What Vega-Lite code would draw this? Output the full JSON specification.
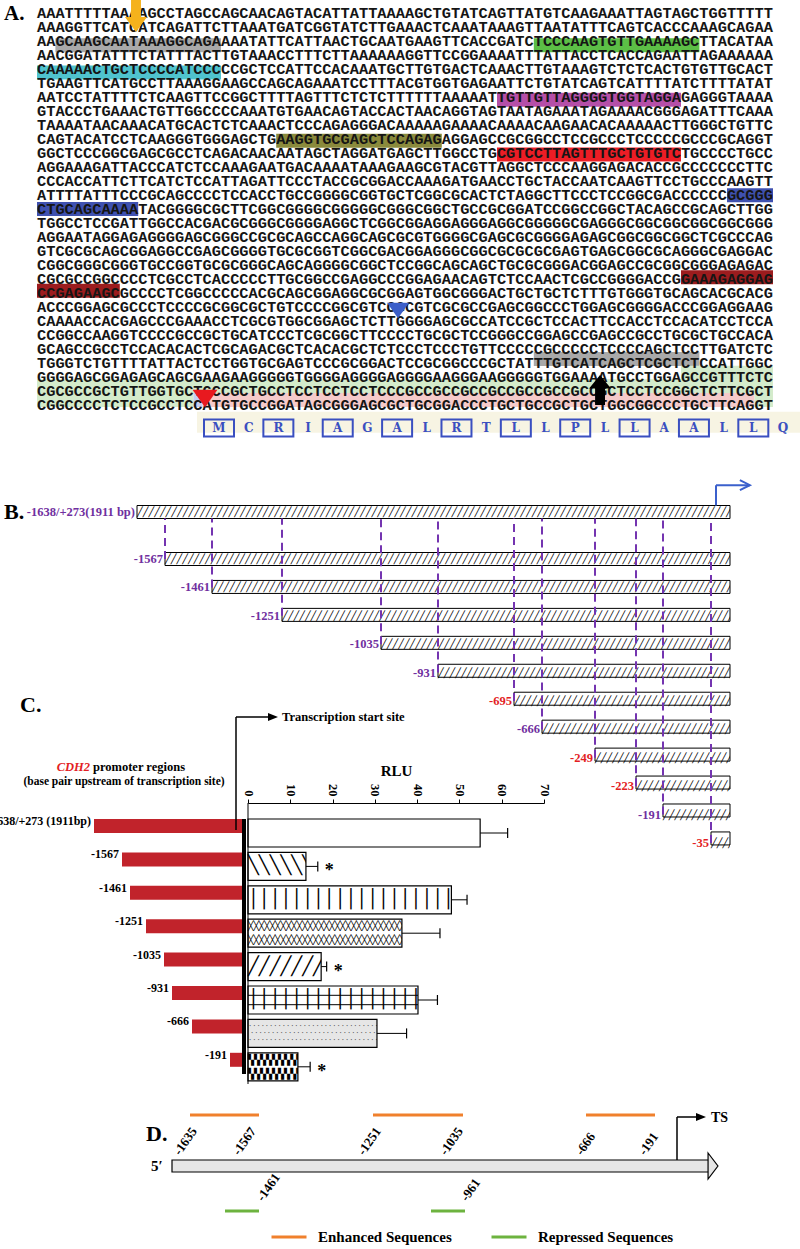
{
"$schema":"https://vega.github.io/schema/vega-lite/v6.json",
"width":800,"height":1249,"autosize":{"type":"none"},"padding":0,"background":"white",
"config":{"view":{"stroke":null}},
"resolve":{"scale":{"x":"independent","y":"independent","fill":"independent","color":"independent"}},
"datasets":{
"seq":[
{"line":0,"s":"AAATTTTTAAAAGCCTAGCCAGCAACAGTACATTATTAAAAGCTGTATCAGTTATGTCAAGAAATTAGTAGCTGGTTTTT"},
{"line":1,"s":"AAAGGTTCATCATCAGATTCTTAAATGATCGGTATCTTGAAACTCAAATAAAGTTAATATTTCAGTCACCCAAAGCAGAA"},
{"line":2,"s":"AAGCAAGCAATAAAGGCAGAAAATATTCATTAACTGCAATGAAGTTCACCGATCTCCCAAGTGTTGAAAAGCTTACATAA"},
{"line":3,"s":"AACGGATATTTCTATTTACTTGTAAACCTTTCTTAAAAAAGGTTCCGGAAAATTTATTACCTCACCAGAATTAGAAAAAA"},
{"line":4,"s":"CAAAAACTGCTCCCCATCCCCCGCTCCATTCCACAAATGCTTGTGACTCAAACTTGTAAAGTCTCTCACTGTGTTGCACT"},
{"line":5,"s":"TGAAGTTCATGCCTTAAAGGAAGCCAGCAGAAATCCTTTACGTGGTGAGAATTCTGTATCAGTCATTTTATCTTTTATAT"},
{"line":6,"s":"AATCCTATTTTCTCAAGTTCCGGCTTTTAGTTTCTCTCTTTTTTAAAAATTGTTGTTAGGGGTGGTAGGAGAGGGTAAAA"},
{"line":7,"s":"GTACCCTGAAACTGTTGGCCCCAAATGTGAACAGTACCACTAACAGGTAGTAATAGAAATAGAAAACGGGAGATTTCAAA"},
{"line":8,"s":"TAAAATAACAAACATGCACTCTCAAACTCCCAGAGGGACAAAAAGAAAACAAAACAAGAACACAAAAACTTGGGCTGTTC"},
{"line":9,"s":"CAGTACATCCTCAAGGGTGGGAGCTGAAGGTGCGAGCTCCAGAGAGGAGCCGCGGCCTCCGCCCTCCCCCGCCCGCAGGT"},
{"line":10,"s":"GGCTCCCGGCGAGCGCCTCAGACAACAATAGCTAGGATGAGCTTGGCCTGCGTCCTTAGTTTGCTGTGTCTGCCCCTGCC"},
{"line":11,"s":"AGGAAAGATTACCCATCTCCAAAGAATGACAAAATAAAGAAGCGTACGTTAGGCTCCCAAGGAGACACCGCCCCCCCTTC"},
{"line":12,"s":"CCCACCATTCTTCATCTCCATTAGATTCCCTACCGCGGACCAAAGATGAACCTGCTACCAATCAAGTTCCTGCCCAAGTT"},
{"line":13,"s":"ATTTTATTTCCCGCAGCCCCTCCACCTGCCGGGGCGGTGCTCGGCGCACTCTAGGCTTCCCTCCGGCGACCCCCCGCGGG"},
{"line":14,"s":"CTGCAGCAAAATACGGGGCGCTTCGGCGGGGCGGGGGCGGGCGGCTGCCGCGGATCCGGCCGGCTACAGCCGCAGCTTGG"},
{"line":15,"s":"TGGCCTCCGATTGGCCACGACGCGGGCGGGGAGGCTCGGCGGAGGAGGGAGGCGGGGGCGAGGGCGGCGGCGGCGGCGGG"},
{"line":16,"s":"AGGAATAGGAGAGGGGAGCGGGCCGCGCAGCCAGGCAGCGCGTGGGGCGAGCGCGGGGAGAGCGGCGGCGGCTCGCCCAG"},
{"line":17,"s":"GTCGCGCAGCGGAGGCCGAGCGGGGTGCGCGGTCGGCGACGGAGGGCGGCGCGCGCGAGTGAGCGGCGCAGGGCGAGGAC"},
{"line":18,"s":"CGGCGGGCGGGTGCCGGTGCGCGGGCAGCAGGGGCGGCTCCGGCAGCAGCTGCGCGGGACGGAGCCGCGGCGGGAGAGAC"},
{"line":19,"s":"CGCGCCGGCCCCTCGCCTCACCCCCTTGCGGCCGAGGCCCGGAGAACAGTCTCCAACTCGCCGGGGACCGGAAAGAGGAG"},
{"line":20,"s":"CCGAGAAGCGCCCCTCGGCCCCCACGCAGCGGAGGCGCGGAGTGGCGGGACTGCTGCTCTTTGTGGGTGCAGCACGCACG"},
{"line":21,"s":"ACCCGGAGCGCCCTCCCCGCGGCGCTGTCCCCGGCGTCCGCGTCGCGCCGAGCGGCCCTGGAGCGGGGACCCGGAGGAAG"},
{"line":22,"s":"CAAAACCACGAGCCCGAAACCTCGCGTGGCGGAGCTCTTGGGGAGCGCCATCCGCTCCACTTCCACCTCCACATCCTCCA"},
{"line":23,"s":"CCGGCCAAGGTCCCCGCCGCTGCATCCCTCGCGGCTTCCCCTGCGCTCCGGGCCGGAGCCGAGCCGCCTGCGCTGCCACA"},
{"line":24,"s":"GCAGCCGCCTCCACACACTCGCAGACGCTCACACGCTCTCCCTCCCTGTTCCCCCGCCCCCTCCCCAGCTCCTTGATCTC"},
{"line":25,"s":"TGGGTCTGTTTTATTACTCCTGGTGCGAGTCCCGCGGACTCCGCGGCCCGCTATTTGTCATCAGCTCGCTCTCCATTGGC"},
{"line":26,"s":"GGGGAGCGGAGAGCAGCGAAGAAGGGGGTGGGGAGGGGAGGGGAAGGGAAGGGGGTGGAAAATGCCTGGAGCCGTTTCTC"},
{"line":27,"s":"CGCGCCGCTGTTGGTGCTGCCGCTGCCTCCTCCTCCTCCCGCCGCCGCCGCCGCCGCCGCCGCTCCTCCGGCTCTTCGCT"},
{"line":28,"s":"CGGCCCCTCTCCGCCTCCATGTGCCGGATAGCGGGAGCGCTGCGGACCCTGCTGCCGCTGCTGGCGGCCCTGCTTCAGGT"}
],
"hl":[
{"line":2,"from":2,"to":20,"f":"s1"},
{"line":2,"from":54,"to":72,"f":"s2"},
{"line":4,"from":0,"to":20,"f":"s3"},
{"line":6,"from":50,"to":70,"f":"s4"},
{"line":9,"from":26,"to":44,"f":"s5"},
{"line":10,"from":50,"to":70,"f":"s6"},
{"line":13,"from":75,"to":80,"f":"s7"},
{"line":14,"from":0,"to":11,"f":"s7"},
{"line":19,"from":70,"to":80,"f":"s8"},
{"line":20,"from":0,"to":9,"f":"s8"},
{"line":25,"from":54,"to":72,"f":"s1"},
{"line":26,"from":70,"to":80,"f":"exon"},
{"line":27,"from":0,"to":80,"f":"exon"},
{"line":28,"from":0,"to":17,"f":"exon"},
{"line":28,"from":17,"to":18,"f":"tss"},
{"line":28,"from":18,"to":78,"f":"cds"},
{"line":28,"from":78,"to":80,"f":"exon"}
],
"prot":[
{"i":0,"aa":"M","boxed":true},{"i":1,"aa":"C","boxed":false},{"i":2,"aa":"R","boxed":true},{"i":3,"aa":"I","boxed":false},
{"i":4,"aa":"A","boxed":true},{"i":5,"aa":"G","boxed":false},{"i":6,"aa":"A","boxed":true},{"i":7,"aa":"L","boxed":false},
{"i":8,"aa":"R","boxed":true},{"i":9,"aa":"T","boxed":false},{"i":10,"aa":"L","boxed":true},{"i":11,"aa":"L","boxed":false},
{"i":12,"aa":"P","boxed":true},{"i":13,"aa":"L","boxed":false},{"i":14,"aa":"L","boxed":true},{"i":15,"aa":"A","boxed":false},
{"i":16,"aa":"A","boxed":true},{"i":17,"aa":"L","boxed":false},{"i":18,"aa":"L","boxed":true},{"i":19,"aa":"Q","boxed":false}
],
"bcon":[
{"row":0,"start":-1638,"end":273,"label":"-1638/+273(1911 bp)","tested":"yes"},
{"row":1,"start":-1567,"end":273,"label":"-1567","tested":"yes"},
{"row":2,"start":-1461,"end":273,"label":"-1461","tested":"yes"},
{"row":3,"start":-1251,"end":273,"label":"-1251","tested":"yes"},
{"row":4,"start":-1035,"end":273,"label":"-1035","tested":"yes"},
{"row":5,"start":-931,"end":273,"label":"-931","tested":"yes"},
{"row":6,"start":-695,"end":273,"label":"-695","tested":"no"},
{"row":7,"start":-666,"end":273,"label":"-666","tested":"yes"},
{"row":8,"start":-249,"end":273,"label":"-249","tested":"no"},
{"row":9,"start":-223,"end":273,"label":"-223","tested":"no"},
{"row":10,"start":-191,"end":273,"label":"-191","tested":"yes"},
{"row":11,"start":-35,"end":273,"label":"-35","tested":"no"}
],
"rlu":[
{"construct":"-1638/+273 (1911bp)","bp":-1638,"rlu":54.9,"hi":61.4,"sig":""},
{"construct":"-1567","bp":-1567,"rlu":13.7,"hi":16.5,"sig":"*"},
{"construct":"-1461","bp":-1461,"rlu":48.1,"hi":51.8,"sig":""},
{"construct":"-1251","bp":-1251,"rlu":36.4,"hi":45.4,"sig":""},
{"construct":"-1035","bp":-1035,"rlu":17.3,"hi":18.6,"sig":"*"},
{"construct":"-931","bp":-931,"rlu":40.2,"hi":44.8,"sig":""},
{"construct":"-666","bp":-666,"rlu":30.5,"hi":37.5,"sig":""},
{"construct":"-191","bp":-191,"rlu":11.8,"hi":14.7,"sig":"*"}
],
"dseg":[
{"from":-1635,"to":-1567,"effect":"Enhanced Sequences"},
{"from":-1251,"to":-1035,"effect":"Enhanced Sequences"},
{"from":-666,"to":-191,"effect":"Enhanced Sequences"},
{"from":-1567,"to":-1461,"effect":"Repressed Sequences"},
{"from":-1035,"to":-961,"effect":"Repressed Sequences"}
],
"dlab":[
{"bp":-1635,"label":"-1635","side":"above"},
{"bp":-1567,"label":"-1567","side":"above"},
{"bp":-1251,"label":"-1251","side":"above"},
{"bp":-1035,"label":"-1035","side":"above"},
{"bp":-666,"label":"-666","side":"above"},
{"bp":-191,"label":"-191","side":"above"},
{"bp":-1461,"label":"-1461","side":"below"},
{"bp":-961,"label":"-961","side":"below"}
]
},
"layer":[
{"data":{"name":"hl"},"mark":{"type":"bar","orient":"horizontal","height":14},
"encoding":{"x":{"field":"from","type":"quantitative","scale":{"domain":[0,80],"range":[37,773],"zero":false,"nice":false},"axis":null},"x2":{"field":"to"},
"y":{"field":"line","type":"quantitative","scale":{"domain":[0,28],"range":[13,405],"zero":false,"nice":false},"axis":null},
"fill":{"field":"f","type":"nominal","scale":{"domain":["s1","s2","s3","s4","s5","s6","s7","s8","exon","tss","cds"],"range":["#a9a9a9","#5cbf46","#4fc3ce","#b54fa8","#8a8a3c","#ec1d25","#3f51b0","#9c1c1e","#d4ebcb","#c6cdf0","#f5caca"]},"legend":null}}},
{"data":{"values":[{}]},"mark":{"type":"bar","orient":"horizontal","height":21,"color":"#f7f4e3"},
"encoding":{"x":{"datum":-0.74,"type":"quantitative","scale":{"domain":[0,19],"range":[219,783],"zero":false,"nice":false},"axis":null},"x2":{"datum":20.5},
"y":{"datum":29.64,"type":"quantitative","scale":{"domain":[0,28],"range":[13,405],"zero":false,"nice":false},"axis":null}}},
{"data":{"name":"seq"},"mark":{"type":"text","align":"left","baseline":"middle","font":"Liberation Mono","fontWeight":"bold","fontSize":15.33,"color":"#151515"},
"encoding":{"x":{"datum":0,"type":"quantitative","scale":{"domain":[0,80],"range":[37,773],"zero":false,"nice":false},"axis":null},
"y":{"field":"line","type":"quantitative","scale":{"domain":[0,28],"range":[13,405],"zero":false,"nice":false},"axis":null},"text":{"field":"s"}}},
{"data":{"values":[{}]},"mark":{"type":"point","shape":"M-0.31,-1L0.31,-1L0.31,0.06L0.69,0.06L0,1L-0.69,0.06L-0.31,0.06Z","size":1024,"filled":true,"color":"#f5b21c","opacity":1,"strokeWidth":0},
"encoding":{"x":{"datum":10.76,"type":"quantitative","scale":{"domain":[0,80],"range":[37,773],"zero":false,"nice":false},"axis":null},
"y":{"datum":0.21,"type":"quantitative","scale":{"domain":[0,28],"range":[13,405],"zero":false,"nice":false},"axis":null}}},
{"data":{"values":[{}]},"mark":{"type":"point","shape":"M-1,-0.7L1,-0.7L0,0.7Z","size":484,"filled":true,"color":"#3b5fc9","opacity":1,"strokeWidth":0},
"encoding":{"x":{"datum":39.24,"type":"quantitative","scale":{"domain":[0,80],"range":[37,773],"zero":false,"nice":false},"axis":null},
"y":{"datum":21.25,"type":"quantitative","scale":{"domain":[0,28],"range":[13,405],"zero":false,"nice":false},"axis":null}}},
{"data":{"values":[{}]},"mark":{"type":"point","shape":"M-1,-0.7L1,-0.7L0,0.7Z","size":625,"filled":true,"color":"#e8191f","opacity":1,"strokeWidth":0},
"encoding":{"x":{"datum":18.26,"type":"quantitative","scale":{"domain":[0,80],"range":[37,773],"zero":false,"nice":false},"axis":null},
"y":{"datum":27.54,"type":"quantitative","scale":{"domain":[0,28],"range":[13,405],"zero":false,"nice":false},"axis":null}}},
{"data":{"values":[{}]},"mark":{"type":"point","shape":"M-0.33,1L0.33,1L0.33,-0.1L0.73,-0.1L0,-1L-0.73,-0.1L-0.33,-0.1Z","size":900,"filled":true,"color":"#000000","opacity":1,"strokeWidth":0},
"encoding":{"x":{"datum":61.2,"type":"quantitative","scale":{"domain":[0,80],"range":[37,773],"zero":false,"nice":false},"axis":null},
"y":{"datum":26.93,"type":"quantitative","scale":{"domain":[0,28],"range":[13,405],"zero":false,"nice":false},"axis":null}}},
{"data":{"name":"prot"},"transform":[{"filter":"datum.boxed"}],"mark":{"type":"point","shape":"M-1,-0.57L1,-0.57L1,0.57L-1,0.57Z","size":900,"filled":false,"stroke":"#3a4fc0","strokeWidth":2,"opacity":1},
"encoding":{"x":{"field":"i","type":"quantitative","scale":{"domain":[0,19],"range":[219,783],"zero":false,"nice":false},"axis":null},
"y":{"datum":29.64,"type":"quantitative","scale":{"domain":[0,28],"range":[13,405],"zero":false,"nice":false},"axis":null}}},
{"data":{"name":"prot"},"mark":{"type":"text","align":"center","baseline":"middle","font":"DejaVu Serif","fontWeight":"bold","fontSize":12,"color":"#3a4fc0"},
"encoding":{"x":{"field":"i","type":"quantitative","scale":{"domain":[0,19],"range":[219,783],"zero":false,"nice":false},"axis":null},
"y":{"datum":29.64,"type":"quantitative","scale":{"domain":[0,28],"range":[13,405],"zero":false,"nice":false},"axis":null},"text":{"field":"aa"}}},
{"data":{"values":[{}]},"mark":{"type":"text","text":"A.","align":"left","baseline":"middle","font":"Liberation Serif","fontWeight":"bold","fontSize":21,"color":"black"},
"encoding":{"x":{"datum":4,"type":"quantitative","scale":{"domain":[0,800],"range":[0,800],"zero":false,"nice":false},"axis":null},
"y":{"datum":14,"type":"quantitative","scale":{"domain":[0,1249],"range":[0,1249],"zero":false,"nice":false},"axis":null}}},

{"data":{"name":"bcon"},"mark":{"type":"bar","orient":"horizontal","height":13,"color":"white"},
"encoding":{"x":{"field":"start","type":"quantitative","scale":{"domain":[-1638,-1567,-1461,-1251,-1035,-931,-695,-666,-249,-223,-191,-35,0,273,400],"range":[137,165,212,282,381,438,514,542,595,636,663,711,716,730,800],"zero":false,"nice":false},"axis":null},"x2":{"field":"end"},
"y":{"field":"row","type":"quantitative","scale":{"domain":[-1,0,1,11],"range":[465,512,559,843],"zero":false,"nice":false},"axis":null}}},
{"data":{"name":"bcon"},"mark":{"type":"text","text":"╱╱╱╱╱╱╱╱╱╱╱╱╱╱╱╱╱╱╱╱╱╱╱╱╱╱╱╱╱╱╱╱╱╱╱╱╱╱╱╱╱╱╱╱╱╱╱╱╱╱╱╱╱╱╱╱╱╱╱╱╱╱╱╱╱╱╱╱╱╱╱╱╱╱╱╱╱╱╱╱╱╱╱╱╱╱╱╱╱╱╱╱╱╱╱╱╱╱╱╱╱╱╱╱╱╱╱╱╱╱╱╱╱╱╱╱╱╱╱╱╱╱╱╱╱╱╱╱╱╱╱╱","align":"left","baseline":"middle","font":"DejaVu Sans Mono","fontWeight":"bold","fontSize":9.5,"color":"black"},
"encoding":{"x":{"field":"start","type":"quantitative","scale":{"domain":[-1638,-1567,-1461,-1251,-1035,-931,-695,-666,-249,-223,-191,-35,0,273,400],"range":[137,165,212,282,381,438,514,542,595,636,663,711,716,730,800],"zero":false,"nice":false},"axis":null},
"y":{"field":"row","type":"quantitative","scale":{"domain":[-1,0,1,11],"range":[465,512,559,843],"zero":false,"nice":false},"axis":null}}},
{"data":{"name":"bcon"},"mark":{"type":"bar","orient":"horizontal","height":28.4,"color":"white"},
"encoding":{"x":{"field":"end","type":"quantitative","scale":{"domain":[-1638,-1567,-1461,-1251,-1035,-931,-695,-666,-249,-223,-191,-35,0,273,400],"range":[137,165,212,282,381,438,514,542,595,636,663,711,716,730,800],"zero":false,"nice":false},"axis":null},"x2":{"datum":400},
"y":{"field":"row","type":"quantitative","scale":{"domain":[-1,0,1,11],"range":[465,512,559,843],"zero":false,"nice":false},"axis":null}}},
{"data":{"name":"bcon"},"mark":{"type":"bar","orient":"horizontal","height":13,"fillOpacity":0,"stroke":"black","strokeWidth":1},
"encoding":{"x":{"field":"start","type":"quantitative","scale":{"domain":[-1638,-1567,-1461,-1251,-1035,-931,-695,-666,-249,-223,-191,-35,0,273,400],"range":[137,165,212,282,381,438,514,542,595,636,663,711,716,730,800],"zero":false,"nice":false},"axis":null},"x2":{"field":"end"},
"y":{"field":"row","type":"quantitative","scale":{"domain":[-1,0,1,11],"range":[465,512,559,843],"zero":false,"nice":false},"axis":null}}},
{"data":{"name":"bcon"},"transform":[{"filter":"datum.row > 0"}],"mark":{"type":"rule","color":"#7434b0","strokeWidth":2,"strokeDash":[8,5]},
"encoding":{"x":{"field":"start","type":"quantitative","scale":{"domain":[-1638,-1567,-1461,-1251,-1035,-931,-695,-666,-249,-223,-191,-35,0,273,400],"range":[137,165,212,282,381,438,514,542,595,636,663,711,716,730,800],"zero":false,"nice":false},"axis":null},
"y":{"field":"row","type":"quantitative","scale":{"domain":[-1,0,1,11],"range":[465,512,559,843],"zero":false,"nice":false},"axis":null},"y2":{"datum":0.14}}},
{"data":{"name":"bcon"},"mark":{"type":"text","align":"right","baseline":"middle","dx":-2,"font":"Liberation Serif","fontWeight":"bold","fontSize":12.5},
"encoding":{"x":{"field":"start","type":"quantitative","scale":{"domain":[-1638,-1567,-1461,-1251,-1035,-931,-695,-666,-249,-223,-191,-35,0,273,400],"range":[137,165,212,282,381,438,514,542,595,636,663,711,716,730,800],"zero":false,"nice":false},"axis":null},
"y":{"field":"row","type":"quantitative","scale":{"domain":[-1,0,1,11],"range":[465,512,559,843],"zero":false,"nice":false},"axis":null},
"text":{"field":"label"},
"fill":{"field":"tested","type":"nominal","scale":{"domain":["yes","no"],"range":["#7030a0","#e31e24"]},"legend":null}}},
{"data":{"values":[{}]},"mark":{"type":"rule","color":"#3b60cc","strokeWidth":2},
"encoding":{"x":{"datum":0,"type":"quantitative","scale":{"domain":[-1638,-1567,-1461,-1251,-1035,-931,-695,-666,-249,-223,-191,-35,0,273,400],"range":[137,165,212,282,381,438,514,542,595,636,663,711,716,730,800],"zero":false,"nice":false},"axis":null},
"y":{"datum":-0.14,"type":"quantitative","scale":{"domain":[-1,0,1,11],"range":[465,512,559,843],"zero":false,"nice":false},"axis":null},"y2":{"datum":-0.57}}},
{"data":{"values":[{}]},"mark":{"type":"rule","color":"#3b60cc","strokeWidth":2},
"encoding":{"x":{"datum":0,"type":"quantitative","scale":{"domain":[-1638,-1567,-1461,-1251,-1035,-931,-695,-666,-249,-223,-191,-35,0,273,400],"range":[137,165,212,282,381,438,514,542,595,636,663,711,716,730,800],"zero":false,"nice":false},"axis":null},"x2":{"datum":309},
"y":{"datum":-0.57,"type":"quantitative","scale":{"domain":[-1,0,1,11],"range":[465,512,559,843],"zero":false,"nice":false},"axis":null}}},
{"data":{"values":[{}]},"mark":{"type":"point","shape":"M-1,-1L1,0L-1,1","size":100,"filled":false,"stroke":"#3b60cc","strokeWidth":2,"opacity":1},
"encoding":{"x":{"datum":300,"type":"quantitative","scale":{"domain":[-1638,-1567,-1461,-1251,-1035,-931,-695,-666,-249,-223,-191,-35,0,273,400],"range":[137,165,212,282,381,438,514,542,595,636,663,711,716,730,800],"zero":false,"nice":false},"axis":null},
"y":{"datum":-0.57,"type":"quantitative","scale":{"domain":[-1,0,1,11],"range":[465,512,559,843],"zero":false,"nice":false},"axis":null}}},
{"data":{"values":[{}]},"mark":{"type":"text","text":"B.","align":"left","baseline":"middle","font":"Liberation Serif","fontWeight":"bold","fontSize":22,"color":"black"},
"encoding":{"x":{"datum":4,"type":"quantitative","scale":{"domain":[0,800],"range":[0,800],"zero":false,"nice":false},"axis":null},
"y":{"datum":512,"type":"quantitative","scale":{"domain":[0,1249],"range":[0,1249],"zero":false,"nice":false},"axis":null}}},

{"data":{"name":"rlu"},"mark":{"type":"bar","orient":"horizontal","height":14,"yOffset":-7,"color":"#c1232b"},
"encoding":{"x":{"field":"bp","type":"quantitative","scale":{"domain":[-1638,-1567,-1461,-1251,-1035,-931,-666,-191,0],"range":[94,122,130,146,164,172,192,230,244],"zero":false,"nice":false},"axis":null},"x2":{"datum":0},
"y":{"field":"construct","type":"nominal","scale":{"type":"band","domain":["-1638/+273 (1911bp)","-1567","-1461","-1251","-1035","-931","-666","-191"],"range":[816.3,1083.5],"paddingInner":0.162,"paddingOuter":0.081},"axis":null}}},
{"data":{"name":"rlu"},"mark":{"type":"text","align":"right","baseline":"middle","dx":-3,"dy":-12,"font":"Liberation Serif","fontWeight":"bold","fontSize":12,"color":"black"},
"encoding":{"x":{"field":"bp","type":"quantitative","scale":{"domain":[-1638,-1567,-1461,-1251,-1035,-931,-666,-191,0],"range":[94,122,130,146,164,172,192,230,244],"zero":false,"nice":false},"axis":null},
"y":{"field":"construct","type":"nominal","scale":{"type":"band","domain":["-1638/+273 (1911bp)","-1567","-1461","-1251","-1035","-931","-666","-191"],"range":[816.3,1083.5],"paddingInner":0.162,"paddingOuter":0.081},"axis":null},
"text":{"field":"construct"}}},
{"data":{"name":"rlu"},"mark":{"type":"bar","orient":"horizontal","color":"white"},
"encoding":{"x":{"field":"rlu","type":"quantitative","scale":{"domain":[0,70],"range":[248,544],"zero":false,"nice":false},
"axis":{"orient":"top","offset":-803,"values":[0,10,20,30,40,50,60,70],"tickSize":4,"tickColor":"black","domainColor":"black","grid":false,"labelAngle":90,"labelAlign":"right","labelBaseline":"middle","labelPadding":3,"labelFont":"Liberation Serif","labelFontWeight":"bold","labelFontSize":12.5,"labelColor":"black","labelFlush":false,"labelOverlap":false,"title":"RLU","titleFont":"Liberation Serif","titleFontWeight":"bold","titleFontSize":15,"titleColor":"black","titlePadding":5}},
"x2":{"datum":0},
"y":{"field":"construct","type":"nominal","scale":{"type":"band","domain":["-1638/+273 (1911bp)","-1567","-1461","-1251","-1035","-931","-666","-191"],"range":[816.3,1083.5],"paddingInner":0.162,"paddingOuter":0.081},"axis":null}}},
{"data":{"name":"rlu"},"transform":[{"filter":"datum.construct == '-666'"}],"mark":{"type":"bar","orient":"horizontal","color":"#e6e6e6"},
"encoding":{"x":{"field":"rlu","type":"quantitative","scale":{"domain":[0,70],"range":[248,544],"zero":false,"nice":false},"axis":null},"x2":{"datum":0},
"y":{"field":"construct","type":"nominal","scale":{"type":"band","domain":["-1638/+273 (1911bp)","-1567","-1461","-1251","-1035","-931","-666","-191"],"range":[816.3,1083.5],"paddingInner":0.162,"paddingOuter":0.081},"axis":null}}},
{"data":{"name":"rlu"},"transform":[{"filter":"datum.construct == '-666'"}],"mark":{"type":"text","text":"·······························································","align":"left","baseline":"middle","dy":-7,"font":"DejaVu Sans Mono","fontSize":7,"color":"#555555"},
"encoding":{"x":{"datum":0,"type":"quantitative","scale":{"domain":[0,70],"range":[248,544],"zero":false,"nice":false},"axis":null},
"y":{"field":"construct","type":"nominal","scale":{"type":"band","domain":["-1638/+273 (1911bp)","-1567","-1461","-1251","-1035","-931","-666","-191"],"range":[816.3,1083.5],"paddingInner":0.162,"paddingOuter":0.081},"axis":null}}},
{"data":{"name":"rlu"},"transform":[{"filter":"datum.construct == '-666'"}],"mark":{"type":"text","text":"·······························································","align":"left","baseline":"middle","dx":2,"dy":0,"font":"DejaVu Sans Mono","fontSize":7,"color":"#555555"},
"encoding":{"x":{"datum":0,"type":"quantitative","scale":{"domain":[0,70],"range":[248,544],"zero":false,"nice":false},"axis":null},
"y":{"field":"construct","type":"nominal","scale":{"type":"band","domain":["-1638/+273 (1911bp)","-1567","-1461","-1251","-1035","-931","-666","-191"],"range":[816.3,1083.5],"paddingInner":0.162,"paddingOuter":0.081},"axis":null}}},
{"data":{"name":"rlu"},"transform":[{"filter":"datum.construct == '-666'"}],"mark":{"type":"text","text":"·······························································","align":"left","baseline":"middle","dy":7,"font":"DejaVu Sans Mono","fontSize":7,"color":"#555555"},
"encoding":{"x":{"datum":0,"type":"quantitative","scale":{"domain":[0,70],"range":[248,544],"zero":false,"nice":false},"axis":null},
"y":{"field":"construct","type":"nominal","scale":{"type":"band","domain":["-1638/+273 (1911bp)","-1567","-1461","-1251","-1035","-931","-666","-191"],"range":[816.3,1083.5],"paddingInner":0.162,"paddingOuter":0.081},"axis":null}}},
{"data":{"name":"rlu"},"transform":[{"filter":"datum.construct == '-1567'"}],"mark":{"type":"text","text":"╲╲╲╲╲╲╲╲╲╲╲╲╲╲╲╲╲╲╲╲╲╲╲╲╲","align":"left","baseline":"middle","font":"DejaVu Sans Mono","fontSize":18,"color":"black"},
"encoding":{"x":{"datum":0,"type":"quantitative","scale":{"domain":[0,70],"range":[248,544],"zero":false,"nice":false},"axis":null},
"y":{"field":"construct","type":"nominal","scale":{"type":"band","domain":["-1638/+273 (1911bp)","-1567","-1461","-1251","-1035","-931","-666","-191"],"range":[816.3,1083.5],"paddingInner":0.162,"paddingOuter":0.081},"axis":null}}},
{"data":{"name":"rlu"},"transform":[{"filter":"datum.construct == '-1035'"}],"mark":{"type":"text","text":"╱╱╱╱╱╱╱╱╱╱╱╱╱╱╱╱╱╱╱╱╱╱╱╱╱","align":"left","baseline":"middle","font":"DejaVu Sans Mono","fontSize":18,"color":"black"},
"encoding":{"x":{"datum":0,"type":"quantitative","scale":{"domain":[0,70],"range":[248,544],"zero":false,"nice":false},"axis":null},
"y":{"field":"construct","type":"nominal","scale":{"type":"band","domain":["-1638/+273 (1911bp)","-1567","-1461","-1251","-1035","-931","-666","-191"],"range":[816.3,1083.5],"paddingInner":0.162,"paddingOuter":0.081},"axis":null}}},
{"data":{"name":"rlu"},"transform":[{"filter":"datum.construct == '-1251'"}],"mark":{"type":"text","text":"╳╳╳╳╳╳╳╳╳╳╳╳╳╳╳╳╳╳╳╳╳╳╳╳╳╳╳╳╳╳╳╳╳╳╳╳╳╳╳╳╳╳╳╳╳╳╳╳╳╳","align":"left","baseline":"middle","dy":-7,"font":"DejaVu Sans Mono","fontSize":9,"color":"black"},
"encoding":{"x":{"datum":0,"type":"quantitative","scale":{"domain":[0,70],"range":[248,544],"zero":false,"nice":false},"axis":null},
"y":{"field":"construct","type":"nominal","scale":{"type":"band","domain":["-1638/+273 (1911bp)","-1567","-1461","-1251","-1035","-931","-666","-191"],"range":[816.3,1083.5],"paddingInner":0.162,"paddingOuter":0.081},"axis":null}}},
{"data":{"name":"rlu"},"transform":[{"filter":"datum.construct == '-1251'"}],"mark":{"type":"text","text":"╳╳╳╳╳╳╳╳╳╳╳╳╳╳╳╳╳╳╳╳╳╳╳╳╳╳╳╳╳╳╳╳╳╳╳╳╳╳╳╳╳╳╳╳╳╳╳╳╳╳","align":"left","baseline":"middle","dy":7,"font":"DejaVu Sans Mono","fontSize":9,"color":"black"},
"encoding":{"x":{"datum":0,"type":"quantitative","scale":{"domain":[0,70],"range":[248,544],"zero":false,"nice":false},"axis":null},
"y":{"field":"construct","type":"nominal","scale":{"type":"band","domain":["-1638/+273 (1911bp)","-1567","-1461","-1251","-1035","-931","-666","-191"],"range":[816.3,1083.5],"paddingInner":0.162,"paddingOuter":0.081},"axis":null}}},
{"data":{"name":"rlu"},"transform":[{"filter":"datum.construct == '-1461' || datum.construct == '-931'"}],"mark":{"type":"text","text":"│││││││││││││││││││││││││","align":"left","baseline":"middle","font":"DejaVu Sans Mono","fontSize":18,"color":"black"},
"encoding":{"x":{"datum":0,"type":"quantitative","scale":{"domain":[0,70],"range":[248,544],"zero":false,"nice":false},"axis":null},
"y":{"field":"construct","type":"nominal","scale":{"type":"band","domain":["-1638/+273 (1911bp)","-1567","-1461","-1251","-1035","-931","-666","-191"],"range":[816.3,1083.5],"paddingInner":0.162,"paddingOuter":0.081},"axis":null}}},
{"data":{"name":"rlu"},"transform":[{"filter":"datum.construct == '-931'"}],"mark":{"type":"rule","strokeWidth":1,"yOffset":-4.7,"color":"black"},
"encoding":{"x":{"field":"rlu","type":"quantitative","scale":{"domain":[0,70],"range":[248,544],"zero":false,"nice":false},"axis":null},"x2":{"datum":0},
"y":{"field":"construct","type":"nominal","scale":{"type":"band","domain":["-1638/+273 (1911bp)","-1567","-1461","-1251","-1035","-931","-666","-191"],"range":[816.3,1083.5],"paddingInner":0.162,"paddingOuter":0.081},"axis":null}}},
{"data":{"name":"rlu"},"transform":[{"filter":"datum.construct == '-931'"}],"mark":{"type":"rule","strokeWidth":1,"yOffset":4.7,"color":"black"},
"encoding":{"x":{"field":"rlu","type":"quantitative","scale":{"domain":[0,70],"range":[248,544],"zero":false,"nice":false},"axis":null},"x2":{"datum":0},
"y":{"field":"construct","type":"nominal","scale":{"type":"band","domain":["-1638/+273 (1911bp)","-1567","-1461","-1251","-1035","-931","-666","-191"],"range":[816.3,1083.5],"paddingInner":0.162,"paddingOuter":0.081},"axis":null}}},
{"data":{"name":"rlu"},"transform":[{"filter":"datum.construct == '-191'"}],"mark":{"type":"text","text":"▚▚▚▚▚▚▚▚▚▚▚▚▚▚▚▚▚▚▚▚▚▚▚▚▚▚▚▚▚▚▚▚▚▚▚▚▚▚▚▚▚▚▚▚▚","align":"left","baseline":"middle","dy":-7,"font":"DejaVu Sans Mono","fontSize":10,"color":"black"},
"encoding":{"x":{"datum":0,"type":"quantitative","scale":{"domain":[0,70],"range":[248,544],"zero":false,"nice":false},"axis":null},
"y":{"field":"construct","type":"nominal","scale":{"type":"band","domain":["-1638/+273 (1911bp)","-1567","-1461","-1251","-1035","-931","-666","-191"],"range":[816.3,1083.5],"paddingInner":0.162,"paddingOuter":0.081},"axis":null}}},
{"data":{"name":"rlu"},"transform":[{"filter":"datum.construct == '-191'"}],"mark":{"type":"text","text":"▚▚▚▚▚▚▚▚▚▚▚▚▚▚▚▚▚▚▚▚▚▚▚▚▚▚▚▚▚▚▚▚▚▚▚▚▚▚▚▚▚▚▚▚▚","align":"left","baseline":"middle","dy":7,"font":"DejaVu Sans Mono","fontSize":10,"color":"black"},
"encoding":{"x":{"datum":0,"type":"quantitative","scale":{"domain":[0,70],"range":[248,544],"zero":false,"nice":false},"axis":null},
"y":{"field":"construct","type":"nominal","scale":{"type":"band","domain":["-1638/+273 (1911bp)","-1567","-1461","-1251","-1035","-931","-666","-191"],"range":[816.3,1083.5],"paddingInner":0.162,"paddingOuter":0.081},"axis":null}}},
{"data":{"name":"rlu"},"mark":{"type":"bar","orient":"horizontal","height":33,"color":"white"},
"encoding":{"x":{"field":"rlu","type":"quantitative","scale":{"domain":[0,70],"range":[248,544],"zero":false,"nice":false},"axis":null},"x2":{"datum":70},
"y":{"field":"construct","type":"nominal","scale":{"type":"band","domain":["-1638/+273 (1911bp)","-1567","-1461","-1251","-1035","-931","-666","-191"],"range":[816.3,1083.5],"paddingInner":0.162,"paddingOuter":0.081},"axis":null}}},
{"data":{"name":"rlu"},"mark":{"type":"bar","orient":"horizontal","fillOpacity":0,"stroke":"black","strokeWidth":1.2},
"encoding":{"x":{"field":"rlu","type":"quantitative","scale":{"domain":[0,70],"range":[248,544],"zero":false,"nice":false},"axis":null},"x2":{"datum":0},
"y":{"field":"construct","type":"nominal","scale":{"type":"band","domain":["-1638/+273 (1911bp)","-1567","-1461","-1251","-1035","-931","-666","-191"],"range":[816.3,1083.5],"paddingInner":0.162,"paddingOuter":0.081},"axis":null}}},
{"data":{"name":"rlu"},"mark":{"type":"rule","strokeWidth":1,"color":"black"},
"encoding":{"x":{"field":"rlu","type":"quantitative","scale":{"domain":[0,70],"range":[248,544],"zero":false,"nice":false},"axis":null},"x2":{"field":"hi"},
"y":{"field":"construct","type":"nominal","scale":{"type":"band","domain":["-1638/+273 (1911bp)","-1567","-1461","-1251","-1035","-931","-666","-191"],"range":[816.3,1083.5],"paddingInner":0.162,"paddingOuter":0.081},"axis":null}}},
{"data":{"name":"rlu"},"mark":{"type":"tick","orient":"vertical","size":10,"thickness":1.2,"color":"black","opacity":1},
"encoding":{"x":{"field":"hi","type":"quantitative","scale":{"domain":[0,70],"range":[248,544],"zero":false,"nice":false},"axis":null},
"y":{"field":"construct","type":"nominal","scale":{"type":"band","domain":["-1638/+273 (1911bp)","-1567","-1461","-1251","-1035","-931","-666","-191"],"range":[816.3,1083.5],"paddingInner":0.162,"paddingOuter":0.081},"axis":null}}},
{"data":{"name":"rlu"},"mark":{"type":"text","align":"left","baseline":"middle","dx":7,"dy":5,"font":"Liberation Serif","fontWeight":"bold","fontSize":18,"color":"black"},
"encoding":{"x":{"field":"hi","type":"quantitative","scale":{"domain":[0,70],"range":[248,544],"zero":false,"nice":false},"axis":null},
"y":{"field":"construct","type":"nominal","scale":{"type":"band","domain":["-1638/+273 (1911bp)","-1567","-1461","-1251","-1035","-931","-666","-191"],"range":[816.3,1083.5],"paddingInner":0.162,"paddingOuter":0.081},"axis":null},"text":{"field":"sig"}}},
{"data":{"values":[{}]},"mark":{"type":"rule","strokeWidth":4,"color":"black"},
"encoding":{"x":{"datum":244,"type":"quantitative","scale":{"domain":[0,800],"range":[0,800],"zero":false,"nice":false},"axis":null},
"y":{"datum":819,"type":"quantitative","scale":{"domain":[0,1249],"range":[0,1249],"zero":false,"nice":false},"axis":null},"y2":{"datum":1074}}},
{"data":{"values":[{}]},"mark":{"type":"rule","strokeWidth":1,"color":"black"},
"encoding":{"x":{"datum":248,"type":"quantitative","scale":{"domain":[0,800],"range":[0,800],"zero":false,"nice":false},"axis":null},
"y":{"datum":803,"type":"quantitative","scale":{"domain":[0,1249],"range":[0,1249],"zero":false,"nice":false},"axis":null},"y2":{"datum":1084}}},
{"data":{"values":[{}]},"mark":{"type":"rule","strokeWidth":1.5,"color":"black"},
"encoding":{"x":{"datum":236,"type":"quantitative","scale":{"domain":[0,800],"range":[0,800],"zero":false,"nice":false},"axis":null},
"y":{"datum":717,"type":"quantitative","scale":{"domain":[0,1249],"range":[0,1249],"zero":false,"nice":false},"axis":null},"y2":{"datum":830}}},
{"data":{"values":[{}]},"mark":{"type":"rule","strokeWidth":1.5,"color":"black"},
"encoding":{"x":{"datum":236,"type":"quantitative","scale":{"domain":[0,800],"range":[0,800],"zero":false,"nice":false},"axis":null},"x2":{"datum":272},
"y":{"datum":717,"type":"quantitative","scale":{"domain":[0,1249],"range":[0,1249],"zero":false,"nice":false},"axis":null}}},
{"data":{"values":[{}]},"mark":{"type":"point","shape":"M-1,-0.8L1,0L-1,0.8Z","size":100,"filled":true,"color":"black","opacity":1,"strokeWidth":0},
"encoding":{"x":{"datum":273,"type":"quantitative","scale":{"domain":[0,800],"range":[0,800],"zero":false,"nice":false},"axis":null},
"y":{"datum":717,"type":"quantitative","scale":{"domain":[0,1249],"range":[0,1249],"zero":false,"nice":false},"axis":null}}},
{"data":{"values":[{}]},"mark":{"type":"text","text":"Transcription start site","align":"left","baseline":"middle","font":"Liberation Serif","fontWeight":"bold","fontSize":12.5,"color":"black"},
"encoding":{"x":{"datum":282,"type":"quantitative","scale":{"domain":[0,800],"range":[0,800],"zero":false,"nice":false},"axis":null},
"y":{"datum":717,"type":"quantitative","scale":{"domain":[0,1249],"range":[0,1249],"zero":false,"nice":false},"axis":null}}},
{"data":{"values":[{}]},"mark":{"type":"text","text":"C.","align":"left","baseline":"middle","font":"Liberation Serif","fontWeight":"bold","fontSize":22,"color":"black"},
"encoding":{"x":{"datum":20,"type":"quantitative","scale":{"domain":[0,800],"range":[0,800],"zero":false,"nice":false},"axis":null},
"y":{"datum":705,"type":"quantitative","scale":{"domain":[0,1249],"range":[0,1249],"zero":false,"nice":false},"axis":null}}},
{"data":{"values":[{}]},"mark":{"type":"text","text":"CDH2","align":"right","baseline":"middle","font":"Liberation Serif","fontWeight":"bold","fontStyle":"italic","fontSize":12.5,"color":"#e31e24"},
"encoding":{"x":{"datum":90,"type":"quantitative","scale":{"domain":[0,800],"range":[0,800],"zero":false,"nice":false},"axis":null},
"y":{"datum":767,"type":"quantitative","scale":{"domain":[0,1249],"range":[0,1249],"zero":false,"nice":false},"axis":null}}},
{"data":{"values":[{}]},"mark":{"type":"text","text":"promoter regions","align":"left","baseline":"middle","font":"Liberation Serif","fontWeight":"bold","fontSize":12.5,"color":"black"},
"encoding":{"x":{"datum":93,"type":"quantitative","scale":{"domain":[0,800],"range":[0,800],"zero":false,"nice":false},"axis":null},
"y":{"datum":767,"type":"quantitative","scale":{"domain":[0,1249],"range":[0,1249],"zero":false,"nice":false},"axis":null}}},
{"data":{"values":[{}]},"mark":{"type":"text","text":"(base pair upstream of transcription site)","align":"center","baseline":"middle","font":"Liberation Serif","fontWeight":"bold","fontSize":11.5,"color":"black"},
"encoding":{"x":{"datum":124,"type":"quantitative","scale":{"domain":[0,800],"range":[0,800],"zero":false,"nice":false},"axis":null},
"y":{"datum":782,"type":"quantitative","scale":{"domain":[0,1249],"range":[0,1249],"zero":false,"nice":false},"axis":null}}},

{"data":{"values":[{}]},"mark":{"type":"rect","color":"#e6e6e6","stroke":"black","strokeWidth":1.2},
"encoding":{"x":{"datum":172,"type":"quantitative","scale":{"domain":[0,800],"range":[0,800],"zero":false,"nice":false},"axis":null},"x2":{"datum":710},
"y":{"datum":1160,"type":"quantitative","scale":{"domain":[0,1249],"range":[0,1249],"zero":false,"nice":false},"axis":null},"y2":{"datum":1172}}},
{"data":{"values":[{}]},"mark":{"type":"point","shape":"M-0.38,-1L0.38,0L-0.38,1Z","size":676,"filled":true,"color":"#e6e6e6","stroke":"black","strokeWidth":1.2,"opacity":1},
"encoding":{"x":{"datum":713,"type":"quantitative","scale":{"domain":[0,800],"range":[0,800],"zero":false,"nice":false},"axis":null},
"y":{"datum":1166,"type":"quantitative","scale":{"domain":[0,1249],"range":[0,1249],"zero":false,"nice":false},"axis":null}}},
{"data":{"values":[{}]},"mark":{"type":"rule","strokeWidth":1.5,"color":"black"},
"encoding":{"x":{"datum":677,"type":"quantitative","scale":{"domain":[0,800],"range":[0,800],"zero":false,"nice":false},"axis":null},
"y":{"datum":1117,"type":"quantitative","scale":{"domain":[0,1249],"range":[0,1249],"zero":false,"nice":false},"axis":null},"y2":{"datum":1160}}},
{"data":{"values":[{}]},"mark":{"type":"rule","strokeWidth":1.5,"color":"black"},
"encoding":{"x":{"datum":677,"type":"quantitative","scale":{"domain":[0,800],"range":[0,800],"zero":false,"nice":false},"axis":null},"x2":{"datum":700},
"y":{"datum":1117,"type":"quantitative","scale":{"domain":[0,1249],"range":[0,1249],"zero":false,"nice":false},"axis":null}}},
{"data":{"values":[{}]},"mark":{"type":"point","shape":"M-1,-0.8L1,0L-1,0.8Z","size":100,"filled":true,"color":"black","opacity":1,"strokeWidth":0},
"encoding":{"x":{"datum":701,"type":"quantitative","scale":{"domain":[0,800],"range":[0,800],"zero":false,"nice":false},"axis":null},
"y":{"datum":1117,"type":"quantitative","scale":{"domain":[0,1249],"range":[0,1249],"zero":false,"nice":false},"axis":null}}},
{"data":{"values":[{}]},"mark":{"type":"text","text":"TS","align":"left","baseline":"middle","font":"Liberation Serif","fontWeight":"bold","fontSize":14,"color":"black"},
"encoding":{"x":{"datum":711,"type":"quantitative","scale":{"domain":[0,800],"range":[0,800],"zero":false,"nice":false},"axis":null},
"y":{"datum":1118,"type":"quantitative","scale":{"domain":[0,1249],"range":[0,1249],"zero":false,"nice":false},"axis":null}}},
{"data":{"values":[{}]},"mark":{"type":"text","text":"5′","align":"left","baseline":"middle","font":"Liberation Serif","fontWeight":"bold","fontSize":15,"color":"black"},
"encoding":{"x":{"datum":151,"type":"quantitative","scale":{"domain":[0,800],"range":[0,800],"zero":false,"nice":false},"axis":null},
"y":{"datum":1166,"type":"quantitative","scale":{"domain":[0,1249],"range":[0,1249],"zero":false,"nice":false},"axis":null}}},
{"data":{"values":[{}]},"mark":{"type":"text","text":"D.","align":"left","baseline":"middle","font":"Liberation Serif","fontWeight":"bold","fontSize":22,"color":"black"},
"encoding":{"x":{"datum":146,"type":"quantitative","scale":{"domain":[0,800],"range":[0,800],"zero":false,"nice":false},"axis":null},
"y":{"datum":1134,"type":"quantitative","scale":{"domain":[0,1249],"range":[0,1249],"zero":false,"nice":false},"axis":null}}},
{"data":{"name":"dseg"},"transform":[{"filter":"datum.effect == 'Enhanced Sequences'"}],"mark":{"type":"rule","strokeWidth":3},
"encoding":{"x":{"field":"from","type":"quantitative","scale":{"domain":[-1635,-1567,-1251,-1035,-666,-191],"range":[190,259,373,463,586,655],"zero":false,"nice":false},"axis":null},"x2":{"field":"to"},
"y":{"field":"effect","type":"nominal","scale":{"type":"point","domain":["Enhanced Sequences","Repressed Sequences"],"range":[1115,1211],"padding":0},"axis":null},
"color":{"field":"effect","type":"nominal","scale":{"domain":["Enhanced Sequences","Repressed Sequences"],"range":["#f0802c","#6db33f"]},
"legend":{"orient":"none","legendX":270,"legendY":1218,"direction":"horizontal","title":null,"symbolType":"stroke","symbolSize":1225,"symbolStrokeWidth":3,"labelFont":"Liberation Serif","labelFontWeight":"bold","labelFontSize":15,"labelColor":"black","labelOffset":10,"columnPadding":33}}}},
{"data":{"name":"dseg"},"transform":[{"filter":"datum.effect == 'Repressed Sequences'"}],"mark":{"type":"rule","strokeWidth":3},
"encoding":{"x":{"field":"from","type":"quantitative","scale":{"domain":[-1567,-1461,-1035,-961],"range":[225,259,431,465],"zero":false,"nice":false},"axis":null},"x2":{"field":"to"},
"y":{"field":"effect","type":"nominal","scale":{"type":"point","domain":["Enhanced Sequences","Repressed Sequences"],"range":[1115,1211],"padding":0},"axis":null},
"color":{"field":"effect","type":"nominal","scale":{"domain":["Enhanced Sequences","Repressed Sequences"],"range":["#f0802c","#6db33f"]},"legend":null}}},
{"data":{"name":"dlab"},"mark":{"type":"text","align":"left","baseline":"alphabetic","angle":-55,"font":"Liberation Serif","fontWeight":"bold","fontSize":13,"color":"black"},
"encoding":{"x":{"field":"bp","type":"quantitative","scale":{"domain":[-1635,-1567,-1461,-1251,-1035,-961,-666,-191],"range":[180,239,263,364,446,467,582,645],"zero":false,"nice":false},"axis":null},
"y":{"field":"side","type":"nominal","scale":{"type":"point","domain":["above","below"],"range":[1156,1202],"padding":0},"axis":null},
"text":{"field":"label"}}}
]
}
